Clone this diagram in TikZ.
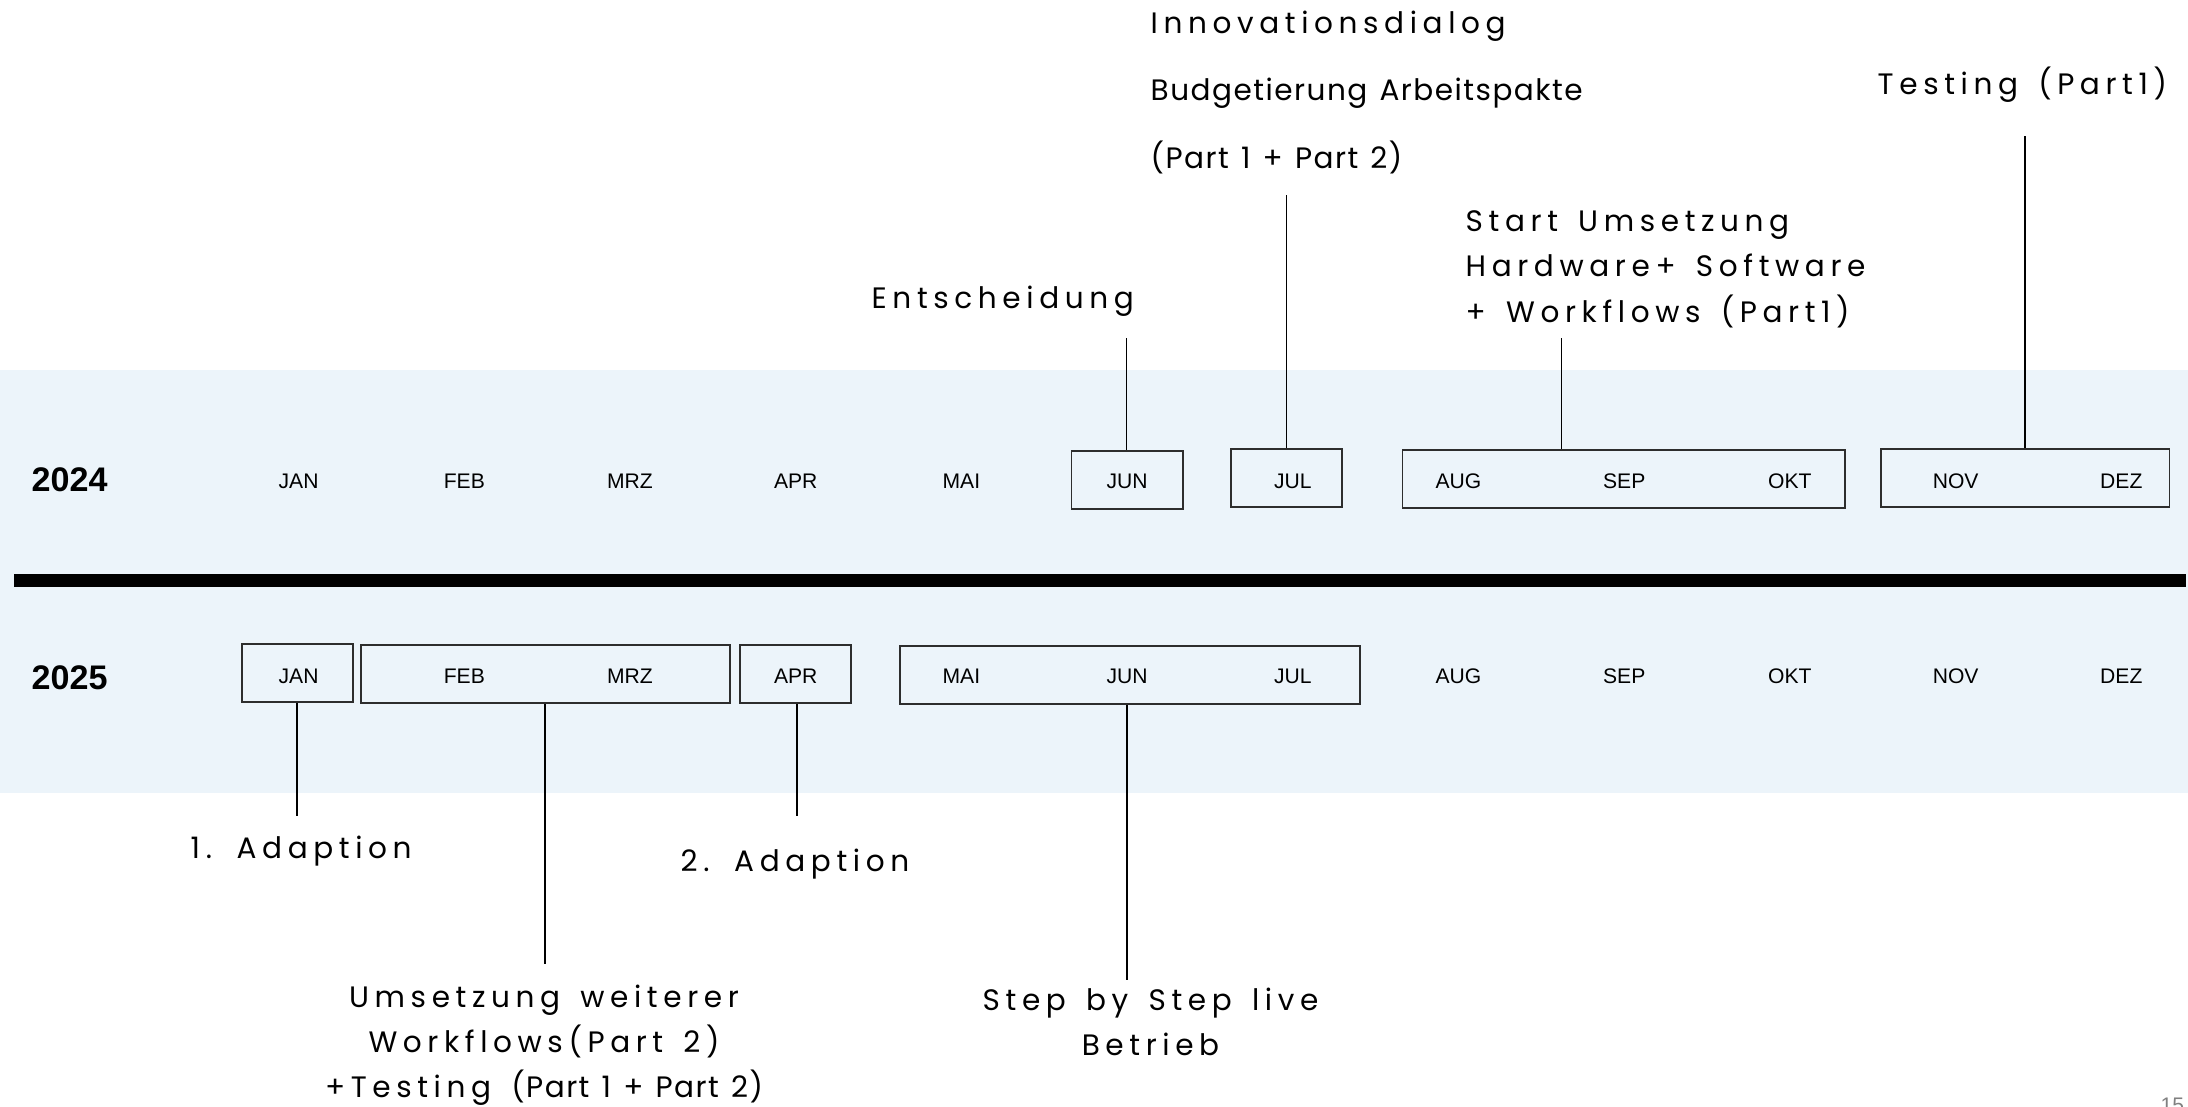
\documentclass[tikz,border=0pt]{standalone}
\usepackage{fontspec}
\usepackage{tikz}
\setmainfont{Liberation Sans}
\newfontfamily\popspaced[LetterSpace=19,WordSpace=1.5]{Poppins}
\newfontfamily\popplain[LetterSpace=5,WordSpace=1.3]{Poppins}
\definecolor{bandblue}{RGB}{236,244,250}
\definecolor{boxgray}{RGB}{45,45,45}

\begin{document}
\begin{tikzpicture}[x=0.01cm,y=-0.01cm,
        month/.style={font=\fontsize{6}{7}\selectfont, inner sep=0pt},
        year/.style={font=\bfseries\fontsize{9.7}{11}\selectfont, anchor=west, inner sep=0pt},
        month box/.style={draw=boxgray, line width=0.55pt, minimum height=0.58cm, inner sep=0pt},
        event/.style={font=\popspaced\fontsize{8.4}{12.8}\selectfont, inner sep=0pt},
        conn/.style={line width=0.5pt},
    ]

    \useasboundingbox (0,0) rectangle (2188,1106);
    \fill[bandblue] (0,370) rectangle (2188,793);
    \draw[line width=0.13cm] (14,580.5) -- (2186,580.5);

    \node[year] (y24) at (31,480) {2024};
    \node[year] (y25) at (31,678) {2025};

    \node[month] (jan24) at (298.6,481) {JAN};
    \node[month] (feb24) at (464.3,481) {FEB};
    \node[month] (mrz24) at (630.0,481) {MRZ};
    \node[month] (apr24) at (795.7,481) {APR};
    \node[month] (mai24) at (961.4,481) {MAI};
    \node[month] (jun24) at (1127.1,481) {JUN};
    \node[month] (jul24) at (1292.8,481) {JUL};
    \node[month] (aug24) at (1458.5,481) {AUG};
    \node[month] (sep24) at (1624.2,481) {SEP};
    \node[month] (okt24) at (1789.9,481) {OKT};
    \node[month] (nov24) at (1955.6,481) {NOV};
    \node[month] (dez24) at (2121.3,481) {DEZ};

    \node[month] (jan25) at (298.6,676) {JAN};
    \node[month] (feb25) at (464.3,676) {FEB};
    \node[month] (mrz25) at (630.0,676) {MRZ};
    \node[month] (apr25) at (795.7,676) {APR};
    \node[month] (mai25) at (961.4,676) {MAI};
    \node[month] (jun25) at (1127.1,676) {JUN};
    \node[month] (jul25) at (1292.8,676) {JUL};
    \node[month] (aug25) at (1458.5,676) {AUG};
    \node[month] (sep25) at (1624.2,676) {SEP};
    \node[month] (okt25) at (1789.9,676) {OKT};
    \node[month] (nov25) at (1955.6,676) {NOV};
    \node[month] (dez25) at (2121.3,676) {DEZ};

    \node[month box, minimum width=1.11cm] (junbox24) at (1127,480) {};
    \node[month box, minimum width=1.115cm] (julbox24) at (1286.3,477.7) {};
    \node[month box, minimum width=4.42cm] (augbox24) at (1623.6,479.3) {};
    \node[month box, minimum width=2.88cm] (novbox24) at (2025.4,477.7) {};

    \node[month box, minimum width=1.11cm] (janbox25) at (297.5,673) {};
    \node[month box, minimum width=3.683cm] (febbox25) at (545.5,673.9) {};
    \node[month box, minimum width=1.11cm] (aprbox25) at (795.5,673.9) {};
    \node[month box, minimum width=4.595cm] (maibox25) at (1129.8,675) {};

    \node[event, anchor=base west] (entsch) at (871,308) {Entscheidung};
    \node[event, anchor=base west, align=left] (budget) at (1150,168) {Innovationsdialog\\[6.3pt]{\popplain Budgetierung Arbeitspakte}\\[6.3pt]{\popplain (Part 1 + Part 2)}};
    \node[event, anchor=base west, align=left] (start) at (1465,322) {Start Umsetzung\\Hardware+ Software\\+ Workflows (Part1)};
    \node[event, anchor=base west] (test) at (1877,94) {Testing (Part1)};
    \node[event, anchor=base west] (adapt1) at (190,858) {1. Adaption};
    \node[event, anchor=base west] (adapt2) at (680,871) {2. Adaption};
    \node[event, anchor=base, align=center] (umsetz) at (544,1097.3) {Umsetzung weiterer\\Workflows(Part 2)\\+Testing {\popplain (Part 1 + Part 2)}};
    \node[event, anchor=base, align=center] (live) at (1150.5,1055) {Step by Step live\\Betrieb};

    \node[font=\fontsize{6}{7}\selectfont, text=gray, anchor=north west, inner sep=0pt] (page) at (2160,1097) {15};

    \coordinate (entsch2jun) at (1126.5,338);
    \coordinate (budget2jul) at (1286.5,195);
    \coordinate (start2aug) at (1561.5,338);
    \coordinate (test2nov) at (2025,136);
    \coordinate (jan2adapt1) at (297,816);
    \coordinate (feb2umsetz) at (545,964);
    \coordinate (apr2adapt2) at (797,816);
    \coordinate (mai2live) at (1127,979.5);

    \draw[conn] (entsch2jun) -- (entsch2jun |- junbox24.north);
    \draw[conn] (budget2jul) -- (budget2jul |- julbox24.north);
    \draw[conn] (start2aug) -- (start2aug |- augbox24.north);
    \draw[conn] (test2nov) -- (test2nov |- novbox24.north);
    \draw[conn] (jan2adapt1 |- janbox25.south) -- (jan2adapt1);
    \draw[conn] (feb2umsetz |- febbox25.south) -- (feb2umsetz);
    \draw[conn] (apr2adapt2 |- aprbox25.south) -- (apr2adapt2);
    \draw[conn] (mai2live |- maibox25.south) -- (mai2live);
\end{tikzpicture}
\end{document}
